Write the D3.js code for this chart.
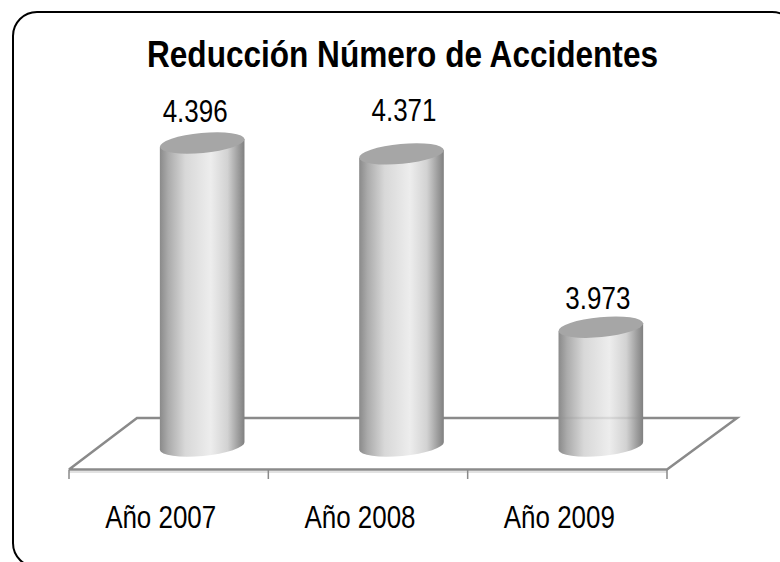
<!DOCTYPE html>
<html>
<head>
<meta charset="utf-8">
<script src="https://cdn.jsdelivr.net/npm/d3@7"></script>
<style>
body { margin: 0; background: #fff; overflow: hidden; }
svg { display: block; }
text { font-family: "Liberation Sans", Arial, sans-serif; fill: #000; }
</style>
</head>
<body>
<script>
var categories = ["Año 2007", "Año 2008", "Año 2009"];
var values = [4396, 4371, 3973];
var valueLabels = ["4.396", "4.371", "3.973"];

var W = 780, H = 562;
var svg = d3.select("body").append("svg").attr("width", W).attr("height", H);

var y = d3.scaleLinear().domain([3700, 4396]).range([446, 143]);
var x = d3.scaleBand().domain(categories).range([69, 667]);

var depth = 68, floorFront = 469.5, floorBack = 418;
var rx = 42.5, ry = 10, tilt = -5.4;
var dx = rx * Math.cos(tilt * Math.PI / 180), dy = rx * Math.sin(tilt * Math.PI / 180);
var labelGap = [21, 33, 18];
var labelShift = [-7, 2.5, -3];

var defs = svg.append("defs");
var grad = defs.append("linearGradient").attr("id", "cyl");
[[0, "#8a8a8a"], [0.1, "#ababab"], [0.3, "#d8d8d8"], [0.6, "#ededed"], [0.8, "#d2d2d2"], [0.93, "#9c9c9c"], [1, "#808080"]]
	.forEach(function(s) { grad.append("stop").attr("offset", s[0]).attr("stop-color", s[1]); });

// card border, runs off the right and bottom of the page
svg.append("rect")
	.attr("x", 13).attr("y", 12).attr("width", 783).attr("height", 555).attr("rx", 24)
	.attr("fill", "none").attr("stroke", "#000").attr("stroke-width", 2);

svg.append("text").attr("x", 402.5).attr("y", 67)
	.attr("text-anchor", "middle").attr("font-size", 36).attr("font-weight", "bold")
	.attr("textLength", 511).attr("lengthAdjust", "spacingAndGlyphs")
	.text("Reducción Número de Accidentes");

// floor
var x0 = x.range()[0], x1 = x.range()[1];
svg.append("line").attr("x1", x0).attr("x2", x1).attr("y1", floorFront + 2.5).attr("y2", floorFront + 2.5)
	.attr("stroke", "#e2e2e2").attr("stroke-width", 2);
svg.append("path")
	.attr("d", d3.line()([[x0, floorFront], [x0 + depth, floorBack], [x1 + depth + 2, floorBack], [x1, floorFront], [x0, floorFront]]))
	.attr("fill", "none").attr("stroke", "#8a8a8a").attr("stroke-width", 2.5);
var ticks = categories.map(function(c) { return x(c); }).concat([x1]);
svg.selectAll("line.tick").data(ticks).enter().append("line")
	.attr("class", "tick")
	.attr("x1", function(d) { return d; }).attr("x2", function(d) { return d; })
	.attr("y1", floorFront).attr("y2", 479)
	.attr("stroke", "#8a8a8a").attr("stroke-width", 1.5);

// cylinders
var cx = function(c) { return x(c) + x.bandwidth() / 2 + 33.5; };
var g = svg.selectAll("g.bar").data(categories).enter().append("g").attr("class", "bar");
g.append("path")
	.attr("fill", "url(#cyl)")
	.attr("d", function(c, i) {
		var top = y(values[i]), base = y.range()[0], m = cx(c);
		return "M" + (m - dx) + "," + (top - dy) + " L" + (m - dx) + "," + (base - dy) +
			" A" + rx + "," + ry + " " + tilt + " 0 0 " + (m + dx) + "," + (base + dy) +
			" L" + (m + dx) + "," + (top + dy) + " Z";
	});
g.append("ellipse")
	.attr("cx", 0).attr("cy", 0).attr("rx", rx).attr("ry", ry)
	.attr("fill", "#a6a6a6")
	.attr("transform", function(c, i) { return "translate(" + cx(c) + "," + y(values[i]) + ") rotate(" + tilt + ")"; });

// the back floor line shows faintly through the last cylinder
var last = categories[2];
svg.append("line")
	.attr("x1", cx(last) - rx).attr("x2", cx(last) + rx).attr("y1", floorBack).attr("y2", floorBack)
	.attr("stroke", "#8a8a8a").attr("stroke-width", 2.5).attr("stroke-opacity", 0.2);

svg.selectAll("text.val").data(valueLabels).enter().append("text")
	.attr("class", "val")
	.attr("text-anchor", "middle").attr("font-size", 32)
	.attr("textLength", 65).attr("lengthAdjust", "spacingAndGlyphs")
	.attr("x", function(d, i) { return cx(categories[i]) + labelShift[i]; })
	.attr("y", function(d, i) { return y(values[i]) - labelGap[i]; })
	.text(function(d) { return d; });

svg.selectAll("text.cat").data(categories).enter().append("text")
	.attr("class", "cat")
	.attr("text-anchor", "middle").attr("font-size", 32)
	.attr("textLength", 111).attr("lengthAdjust", "spacingAndGlyphs")
	.attr("x", function(c) { return x(c) + x.bandwidth() / 2 - 8; })
	.attr("y", 528)
	.text(function(c) { return c; });
</script>
</body>
</html>
